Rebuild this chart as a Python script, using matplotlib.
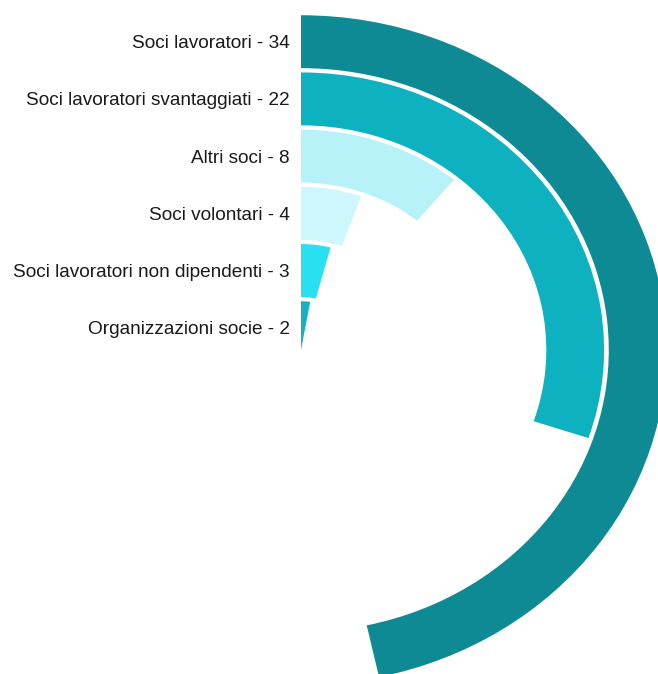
import numpy as np
import matplotlib
matplotlib.use("Agg")
import matplotlib.pyplot as plt

# categories from the innermost ring to the outermost
categories = [
    "Organizzazioni socie",
    "Soci lavoratori non dipendenti",
    "Soci volontari",
    "Altri soci",
    "Soci lavoratori svantaggiati",
    "Soci lavoratori",
]
values = [2, 3, 4, 8, 22, 34]
colors = ["#12b2c3", "#29dff0", "#cdf7fb", "#b8f2f9", "#0db1bf", "#0e8a94"]

W, H = 658, 674
cx, cy = 301, 350          # polar centre in pixels (from top-left)
band_px = 57.2             # pixel size of one radial category band
xstretch = 1.092           # the chart is drawn slightly wider than tall
n = len(categories)
rmax_px = n * band_px

fig = plt.figure(figsize=(W / 100, H / 100), dpi=100)
fig.patch.set_facecolor("white")
ax = fig.add_axes([(cx - rmax_px * xstretch) / W, (H - cy - rmax_px) / H,
                   2 * rmax_px * xstretch / W, 2 * rmax_px / H], projection="polar")
ax.set_aspect("auto")
ax.set_theta_zero_location("N")
ax.set_theta_direction(-1)
ax.set_ylim(0, n)
ax.set_axis_off()

total = sum(values)
bar_w = 0.925
offset = 0.39              # radial position of a category inside its band
for k, (lab, v, c) in enumerate(zip(categories, values, colors)):
    theta = v / total * 2 * np.pi
    r0 = max(0.0, k + offset - bar_w / 2)
    r1 = k + offset + bar_w / 2
    ax.bar(0, r1 - r0, width=theta, bottom=r0,
           align="edge", color=c, edgecolor="none")
    ax.annotate(f"{lab} - {v}", xy=(0, k + offset), xytext=(-11, -2),
                textcoords="offset pixels", ha="right", va="center",
                fontsize=13.7, family="Liberation Sans", color="#1a1a1a",
                annotation_clip=False)

fig.savefig("out.png", dpi=100, facecolor="white")
